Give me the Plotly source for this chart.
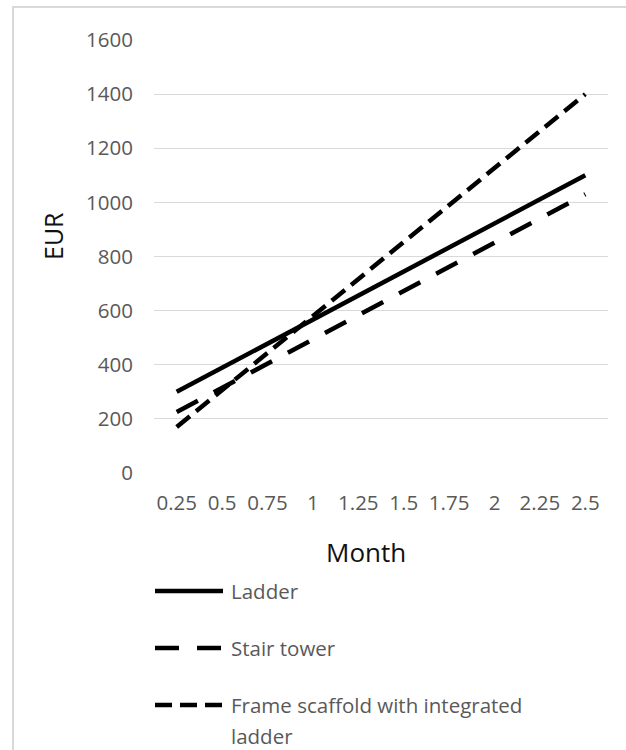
import plotly.graph_objects as go

months = ["0.25", "0.5", "0.75", "1", "1.25", "1.5", "1.75", "2", "2.25", "2.5"]
ladder = [300, 389, 478, 567, 656, 744, 833, 922, 1011, 1100]
stair_tower = [225, 314, 404, 493, 583, 672, 762, 851, 941, 1030]
frame_scaffold = [170, 307, 443, 580, 717, 853, 990, 1127, 1263, 1400]
series_names = ["Ladder", "Stair tower", "Frame scaffold with integrated ladder"]
y_ticks = [0, 200, 400, 600, 800, 1000, 1200, 1400, 1600]

W, H = 626, 750
L, R, T, B = 154, 608, 40, 473
FONT = "Open Sans"
GRAY = "#595959"
TICK_SIZE = 20.5
LEG_SIZE = 20.5

dashes = ["solid", "24px,18px", "17px,8px"]
values = [ladder, stair_tower, frame_scaffold]

fig = go.Figure()
for name, vals, dash in zip(series_names, values, dashes):
    fig.add_trace(go.Scatter(x=months, y=vals, mode="lines", name=name,
                             line=dict(color="black", width=4.5, dash=dash),
                             showlegend=False, hoverinfo="skip"))

def px_x(p):
    return (p - L) / (R - L)

def px_y(p):
    return (B - p) / (B - T)

shapes = []
annotations = []
# outer chart border (left and top visible)
shapes.append(dict(type="rect", xref="paper", yref="paper",
                   x0=px_x(13), x1=px_x(660), y0=px_y(7), y1=px_y(800),
                   line=dict(color="#d9d9d9", width=2), layer="below"))

# manual legend
leg_rows = [591, 648, 705]
for name, dash, py in zip(series_names, dashes, leg_rows):
    shapes.append(dict(type="line", xref="paper", yref="paper",
                       x0=px_x(155), x1=px_x(223), y0=px_y(py), y1=px_y(py),
                       line=dict(color="black", width=4.5, dash=dash)))
leg_texts = ["Ladder", "Stair tower", "Frame scaffold with integrated"]
for txt, py in zip(leg_texts, leg_rows):
    annotations.append(dict(text=txt, xref="paper", yref="paper",
                            x=px_x(229), y=px_y(py), xanchor="left", yanchor="middle",
                            showarrow=False, font=dict(family=FONT, size=LEG_SIZE, color=GRAY)))
annotations.append(dict(text="ladder", xref="paper", yref="paper",
                        x=px_x(229), y=px_y(736), xanchor="left", yanchor="middle",
                        showarrow=False, font=dict(family=FONT, size=LEG_SIZE, color=GRAY)))

# axis titles
annotations.append(dict(text="EUR", xref="paper", yref="paper",
                        x=px_x(53), y=px_y(236), xanchor="center", yanchor="middle",
                        textangle=-90, showarrow=False,
                        font=dict(family=FONT, size=25, color="#111111")))
annotations.append(dict(text="Month", xref="paper", yref="paper",
                        x=px_x(366), y=px_y(552), xanchor="center", yanchor="middle",
                        showarrow=False, font=dict(family=FONT, size=26, color="#111111")))

fig.update_layout(
    width=W, height=H,
    margin=dict(l=L, r=W - R, t=T, b=H - B),
    plot_bgcolor="white", paper_bgcolor="white",
    font=dict(family=FONT, size=TICK_SIZE, color=GRAY),
    shapes=shapes, annotations=annotations,
    showlegend=False, hovermode=False,
)
fig.update_xaxes(type="category", range=[-0.5, 9.5], showgrid=False,
                 showline=False, zeroline=False,
                 ticks="outside", ticklen=11, tickcolor="rgba(0,0,0,0)",
                 tickfont=dict(family=FONT, size=TICK_SIZE, color=GRAY))
fig.update_yaxes(range=[0, 1600], tickvals=y_ticks, showgrid=True,
                 gridcolor="#d9d9d9", gridwidth=1, zeroline=False, showline=False,
                 ticks="outside", ticklen=16, tickcolor="rgba(0,0,0,0)",
                 tickfont=dict(family=FONT, size=TICK_SIZE, color=GRAY))

fig.write_html("out.html", config={"displayModeBar": False, "staticPlot": True},
               post_script="document.body.style.margin='0';document.body.style.overflow='hidden';")
